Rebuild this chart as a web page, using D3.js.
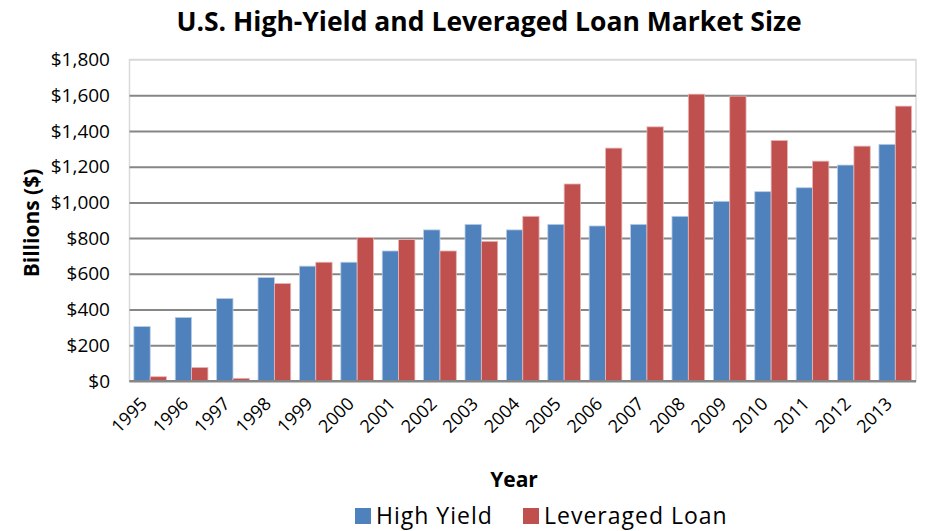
<!DOCTYPE html>
<html><head><meta charset="utf-8">
<script src="https://cdn.jsdelivr.net/npm/d3@7"></script>
<style>body{margin:0;background:#fff;} text{font-family:"Open Sans",sans-serif;}</style>
</head><body>
<svg id="c" width="926" height="531"></svg>
<script>
const years = ["1995","1996","1997","1998","1999","2000","2001","2002","2003","2004","2005","2006","2007","2008","2009","2010","2011","2012","2013"];
const highYield = [305,356,462,579,643,665,728,846,877,846,877,868,877,922,1006,1060,1082,1209,1325];
const leveragedLoan = [24,76,15,546,665,803,792,728,782,922,1103,1304,1423,1606,1595,1347,1231,1315,1539];
const seriesNames = ["High Yield","Leveraged Loan"];
const colors = ["#4F81BD","#C0504D"];
const yTicks = [0,200,400,600,800,1000,1200,1400,1600,1800];

const svg = d3.select("#c");
const L = 129.5, R = 916, T = 59.5, B = 381;
const x = d3.scaleBand().domain(years).range([L,R]).paddingInner(0.21).paddingOuter(0.105);
const xs = d3.scaleBand().domain(seriesNames).range([0,x.bandwidth()]);
const y = d3.scaleLinear().domain([0,1800]).range([B,T]);

// plot border
svg.append("rect").attr("x",L).attr("y",T).attr("width",R-L).attr("height",B-T)
  .attr("fill","none").attr("stroke","#d9d9d9").attr("stroke-width",1.5);

// gridlines
const yAxis = d3.axisLeft(y).tickValues(yTicks).tickSize(-(R-L)).tickFormat(d=>"$"+d3.format(",")(d));
const gy = svg.append("g").attr("transform",`translate(${L},0)`).call(yAxis);
gy.select(".domain").remove();
gy.selectAll(".tick line").attr("stroke","#868686").attr("stroke-width",2)
  .filter(d=>d===1800).attr("stroke","#d9d9d9").attr("stroke-width",1.5);
gy.selectAll(".tick text").attr("x",-19.5).attr("font-size",19).attr("fill","#000")
  .attr("font-family","Open Sans, sans-serif");

// bars
const data = years.map((yr,i)=>({yr, vals:[highYield[i],leveragedLoan[i]]}));
const g = svg.append("g");
data.forEach(d=>{
  d.vals.forEach((v,j)=>{
    g.append("rect")
      .attr("x",x(d.yr)+xs(seriesNames[j]))
      .attr("y",y(v))
      .attr("width",xs.bandwidth())
      .attr("height",B-y(v))
      .attr("fill",colors[j])
      .attr("stroke",j===0?"#b9cde5":"#e6b9b8").attr("stroke-width",0.8);
  });
});

// x axis
svg.append("line").attr("x1",L).attr("x2",R).attr("y1",B).attr("y2",B).attr("stroke","#868686").attr("stroke-width",2);
const xAxis = d3.axisBottom(x).tickSize(0);
const gx = svg.append("g").attr("transform",`translate(0,${B})`).call(xAxis);
gx.select(".domain").remove();
gx.selectAll(".tick text").attr("font-size",18).attr("fill","#000").attr("text-anchor","end")
  .attr("font-family","Open Sans, sans-serif")
  .attr("dx",0).attr("dy",0).attr("y",0)
  .attr("transform","translate(-2,24) rotate(-45)");

// titles
svg.append("text").attr("x",489).attr("y",31).attr("text-anchor","middle")
  .attr("font-size",26.5).attr("font-weight","bold").text("U.S. High-Yield and Leveraged Loan Market Size");
svg.append("text").attr("transform","translate(39,223) rotate(-90)").attr("text-anchor","middle")
  .attr("font-size",21).attr("font-weight","bold").text("Billions ($)");
svg.append("text").attr("x",514).attr("y",487).attr("text-anchor","middle")
  .attr("font-size",21).attr("font-weight","bold").text("Year");

// legend
const leg = svg.append("g");
const legX = [355,523];
seriesNames.forEach((n,i)=>{
  leg.append("rect").attr("x",legX[i]).attr("y",508).attr("width",16).attr("height",16).attr("fill",colors[i]);
  leg.append("text").attr("x",legX[i]+21).attr("y",524).attr("font-size",23)
    .style("letter-spacing","1px").text(n);
});
</script>
</body></html>
